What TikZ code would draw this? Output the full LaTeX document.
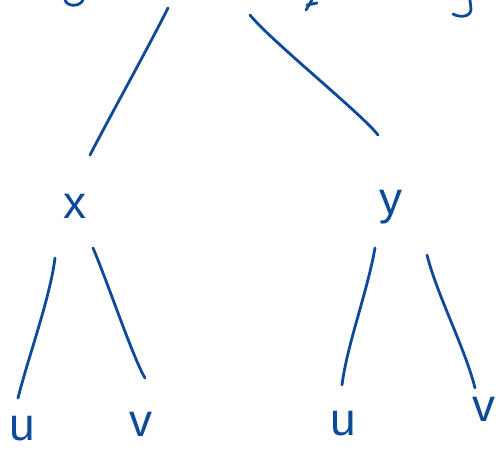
\documentclass[tikz,border=0pt]{standalone}
\usepackage{fontspec}
\setmainfont{Liberation Sans}
\definecolor{inkblue}{RGB}{14,74,152}
\tikzset{
  pen/.style={draw=inkblue, line width=2.8pt, line cap=round, line join=round},
  letter/.style={text=inkblue, inner sep=0pt, font=\fontsize{46}{46}\selectfont}
}
\begin{document}
\begin{tikzpicture}[x=1pt, y=-1pt]

    % 画布
    \useasboundingbox (0,0) rectangle (498,450);
    \clip (0,0) rectangle (498,450);

    % 插入文字
    \coordinate (root) at (193,-39);
    \node[letter] (x) at (75,206) {x};
    \node[letter] (y) at (391,207) {y};
    \node[letter] (u1) at (22,429) {u};
    \node[letter] (v1) at (141,424) {v};
    \node[letter] (u2) at (343,424) {u};
    \node[letter] (v2) at (484,409) {v};

    % 上方被截去的笔画
    \draw[pen] (65,0) .. controls (67,7) and (80,7) .. (83,0);
    \draw[pen] (306,10) -- (312,0);
    \draw[pen] (307,5) -- (317,3);
    \draw[pen] (453,14) .. controls (460,18) and (471,17) .. (471,9) -- (470,0);

    % 画连线
    \draw[pen] ([shift={(-25,47)}]root) .. controls +(-20,40) and +(18,-35) .. ([shift={(15,-51)}]x.center);
    \draw[pen] ([shift={(57,54)}]root) .. controls +(20,25) and +(-15,-20) .. ([shift={(-13,-72)}]y.center);
    \draw[pen] ([shift={(-20,52)}]x.center) .. controls +(-5,40) and +(10,-40) .. ([shift={(-4,-31)}]u1.center);
    \draw[pen] ([shift={(18,42)}]x.center) .. controls +(15,35) and +(-12,-20) .. ([shift={(4,-46)}]v1.center);
    \draw[pen] ([shift={(-16,41)}]y.center) .. controls +(-8,45) and +(5,-40) .. ([shift={(-1,-39)}]u2.center);
    \draw[pen] ([shift={(36,48)}]y.center) .. controls +(10,40) and +(-10,-40) .. ([shift={(-9,-21)}]v2.center);

\end{tikzpicture}
\end{document}
